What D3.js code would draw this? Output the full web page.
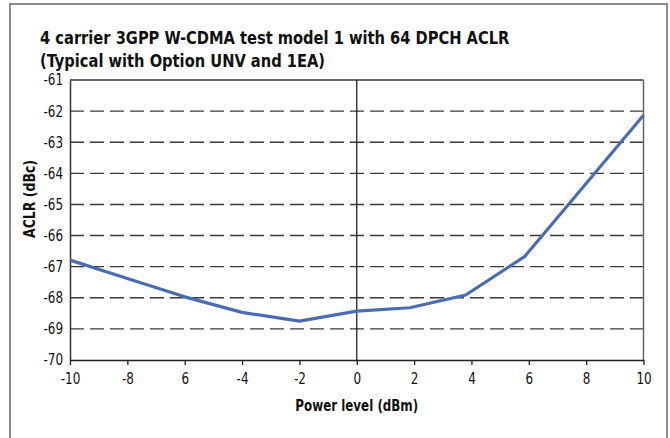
<!DOCTYPE html>
<html>
<head>
<meta charset="utf-8">
<script src="https://cdn.jsdelivr.net/npm/d3@7"></script>
<style>
  html, body { margin: 0; padding: 0; background: #fff; }
  svg { display: block; }
</style>
</head>
<body>
<svg id="chart" width="670" height="438"></svg>
<script>
// ---- data ----
const titleLines = ["4 carrier 3GPP W-CDMA test model 1 with 64 DPCH ACLR", "(Typical with Option UNV and 1EA)"];
const powerLevels = [-10, -8, -6, -4, -2, 0, 1.85, 3.8, 5.85, 10];
const aclrValues = [-66.79, -67.38, -67.97, -68.47, -68.75, -68.43, -68.32, -67.91, -66.68, -62.13];
const xTickValues = [-10, -8, -6, -4, -2, 0, 2, 4, 6, 8, 10];
const xTickLabels = ["-10", "-8", "6", "-4", "-2", "0", "2", "4", "6", "8", "10"];
const yTickValues = [-70, -69, -68, -67, -66, -65, -64, -63, -62, -61];
const xAxisTitle = "Power level (dBm)";
const yAxisTitle = "ACLR (dBc)";

(function () {
// ---- layout ----
const condFam = "'DejaVu Sans Condensed', 'Liberation Sans Narrow', sans-serif";
const svg = d3.select("#chart");
const pLeft = 70, pRight = 643.5, pTop = 80, pBottom = 360;
const tickSX = 0.86;

const x = d3.scaleLinear().domain([-10, 10]).range([pLeft, pRight]);
const y = d3.scaleLinear().domain([-70, -61]).range([pBottom, pTop]);

// outer frame
svg.append("rect")
  .attr("x", 10).attr("y", 4).attr("width", 657).attr("height", 450)
  .attr("fill", "none").attr("stroke", "#8c8c8c").attr("stroke-width", 2);

// title (condensed by horizontal scaling to match reference width)
const titleG = svg.append("g");
const tTexts = titleG.selectAll("text").data(titleLines).join("text")
  .attr("x", 0).attr("y", (d, i) => i * 23)
  .attr("font-family", condFam).attr("font-weight", "bold").attr("font-size", 18)
  .attr("fill", "#111").text(d => d);
const w0 = tTexts.node().getComputedTextLength();
const sx = 470 / w0;
titleG.attr("transform", `translate(40,44) scale(${sx},1)`);

// gridlines (dashed)
svg.append("g").selectAll("line")
  .data(yTickValues.filter(v => v > -70 && v < -61)).join("line")
  .attr("x1", pLeft).attr("x2", pRight)
  .attr("y1", d => y(d)).attr("y2", d => y(d))
  .attr("stroke", "#3a3a3a").attr("stroke-width", 1.4)
  .attr("stroke-dasharray", "14,6");

// plot frame
svg.append("line").attr("x1", pLeft).attr("x2", pRight).attr("y1", pTop).attr("y2", pTop)
  .attr("stroke", "#333").attr("stroke-width", 1.5);
svg.append("line").attr("x1", pRight).attr("x2", pRight).attr("y1", pTop).attr("y2", pBottom)
  .attr("stroke", "#666").attr("stroke-width", 1.5);
svg.append("line").attr("x1", x(0)).attr("x2", x(0)).attr("y1", pTop).attr("y2", pBottom)
  .attr("stroke", "#222").attr("stroke-width", 1.3);

// y axis
const yAxis = svg.append("g").attr("transform", `translate(${pLeft},0)`)
  .call(d3.axisLeft(y).tickValues(yTickValues).tickSize(0).tickPadding(7).tickFormat(d => String(d)));
yAxis.select(".domain").attr("stroke", "#333").attr("stroke-width", 1.5);
yAxis.selectAll("text").attr("font-family", condFam).attr("font-size", 15.5).attr("fill", "#111")
  .attr("x", -7 / tickSX).attr("transform", `scale(${tickSX},1)`);

// x axis
const xAxis = svg.append("g").attr("transform", `translate(0,${pBottom})`)
  .call(d3.axisBottom(x).tickValues(xTickValues).tickSize(5).tickSizeOuter(0).tickPadding(8)
    .tickFormat((d, i) => xTickLabels[i]));
xAxis.select(".domain").attr("stroke", "#222").attr("stroke-width", 1.5);
xAxis.selectAll(".tick line").attr("stroke", "#222").attr("stroke-width", 1.3);
xAxis.selectAll("text").attr("font-family", condFam).attr("font-size", 15.5).attr("fill", "#111")
  .attr("transform", `scale(${tickSX},1)`);

// data line
svg.append("path")
  .datum(powerLevels.map((p, i) => [p, aclrValues[i]]))
  .attr("fill", "none").attr("stroke", "#4a6db2").attr("stroke-width", 3.2)
  .attr("stroke-linejoin", "round")
  .attr("d", d3.line().x(d => x(d[0])).y(d => y(d[1])));

// axis titles
const xt = svg.append("text")
  .attr("x", 0).attr("y", 0).attr("text-anchor", "middle")
  .attr("font-family", condFam).attr("font-weight", "bold").attr("font-size", 15.5)
  .attr("fill", "#111").text(xAxisTitle);
const xs = 123 / xt.node().getComputedTextLength();
xt.attr("transform", `translate(${(pLeft + pRight) / 2},411) scale(${xs},1)`);

const yt = svg.append("text")
  .attr("x", 0).attr("y", 0).attr("text-anchor", "middle")
  .attr("font-family", condFam).attr("font-weight", "bold").attr("font-size", 15.5)
  .attr("fill", "#111").text(yAxisTitle);
const ys = 78 / yt.node().getComputedTextLength();
yt.attr("transform", `translate(35,199) rotate(-90) scale(${ys},1)`);
})();
</script>
</body>
</html>
